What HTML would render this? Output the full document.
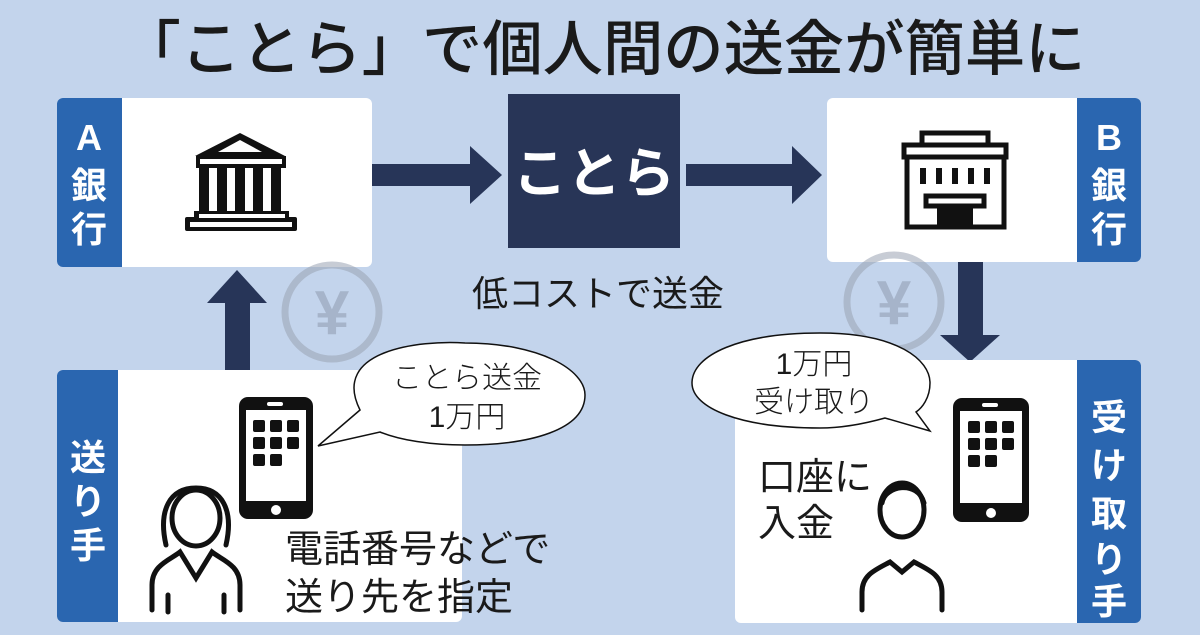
<!DOCTYPE html>
<html><head><meta charset="utf-8"><style>
html,body{margin:0;padding:0;}
body{width:1200px;height:630px;overflow:hidden;background:#c3d4ec;}
svg text{font-family:"Liberation Sans","Noto Sans CJK JP",sans-serif;}
</style></head><body>
<svg width="1200" height="630" viewBox="0 0 1200 630" xmlns="http://www.w3.org/2000/svg">
<rect width="1200" height="630" fill="#c3d4ec"/>
<text x="603" y="70" text-anchor="middle" font-size="60" font-weight="500" fill="#1a1a1a" textLength="965" lengthAdjust="spacingAndGlyphs">「ことら」で個人間の送金が簡単に</text>

<!-- A bank -->
<rect x="57" y="98" width="315" height="169" rx="6" fill="#fff"/>
<path d="M63 98 H122 V267 H63 a6 6 0 0 1 -6 -6 V104 a6 6 0 0 1 6 -6z" fill="#2a66b0"/>
<g font-size="36" font-weight="bold" fill="#fff" text-anchor="middle">
<text x="89" y="150">A</text><text x="89" y="198">銀</text><text x="89" y="242">行</text></g>
<g fill="#111">
<polygon points="240,133 285,156 195,156"/>
<rect x="196" y="156" width="90" height="12"/>
<rect x="199" y="168" width="10" height="45"/><rect x="217" y="168" width="10" height="45"/><rect x="235" y="168" width="10" height="45"/><rect x="253" y="168" width="10" height="45"/><rect x="271" y="168" width="10" height="45"/>
<rect x="194" y="211" width="95" height="11"/>
<rect x="185" y="217" width="112" height="14" rx="2"/>
</g>
<polygon points="240,140 262,152 218,152" fill="#fff"/>
<rect x="200" y="159" width="82" height="5" fill="#fff"/>
<rect x="199" y="214" width="86" height="4" fill="#fff"/>
<rect x="190" y="222" width="102" height="5" fill="#fff"/>

<rect x="372" y="164" width="100" height="22" fill="#273558"/>
<polygon points="470,146 502,175 470,204" fill="#273558"/>
<rect x="686" y="164" width="108" height="22" fill="#273558"/>
<polygon points="792,146 822,175 792,204" fill="#273558"/>

<rect x="508" y="94" width="172" height="154" fill="#283557"/>
<text x="594" y="192" text-anchor="middle" font-size="54" font-weight="bold" fill="#fff">ことら</text>
<text x="598" y="306" text-anchor="middle" font-size="36" fill="#1a1a1a">低コストで送金</text>

<!-- B bank -->
<rect x="827" y="98" width="314" height="164" rx="6" fill="#fff"/>
<path d="M1077 98 H1135 a6 6 0 0 1 6 6 V256 a6 6 0 0 1 -6 6 H1077z" fill="#2a66b0"/>
<g font-size="36" font-weight="bold" fill="#fff" text-anchor="middle">
<text x="1109" y="150">B</text><text x="1109" y="198">銀</text><text x="1109" y="242">行</text></g>
<g fill="none" stroke="#111" stroke-width="5">
<rect x="922" y="133" width="66" height="12"/>
<rect x="904" y="145" width="102" height="12"/>
<path d="M907 157 V227 H1004 V157"/>
<rect x="926" y="196" width="58" height="10"/>
</g>
<g fill="#111">
<rect x="920" y="168" width="6" height="16"/><rect x="936" y="168" width="6" height="16"/><rect x="952" y="168" width="6" height="16"/><rect x="968" y="168" width="6" height="16"/><rect x="984" y="168" width="6" height="16"/>
<rect x="937" y="208" width="36" height="19"/>
</g>

<g opacity="0.55">
<circle cx="332" cy="312" r="47" fill="none" stroke="#9aa3b3" stroke-width="7"/>
<text x="332" y="334" text-anchor="middle" font-size="62" font-weight="bold" fill="#8f9bb0">¥</text>
<circle cx="894" cy="302" r="47" fill="none" stroke="#9aa3b3" stroke-width="7"/>
<text x="894" y="324" text-anchor="middle" font-size="62" font-weight="bold" fill="#8f9bb0">¥</text>
</g>

<rect x="225" y="300" width="25" height="72" fill="#273558"/>
<polygon points="207,303 237,270 267,303" fill="#273558"/>
<rect x="958" y="262" width="25" height="75" fill="#273558"/>
<polygon points="940,335 970,362 1000,335" fill="#273558"/>

<!-- sender -->
<rect x="57" y="370" width="405" height="252" rx="6" fill="#fff"/>
<path d="M63 370 H118 V622 H63 a6 6 0 0 1 -6 -6 V376 a6 6 0 0 1 6 -6z" fill="#2a66b0"/>
<g font-size="36" font-weight="bold" fill="#fff" text-anchor="middle">
<text x="88" y="470">送</text><text x="88" y="514">り</text><text x="88" y="558">手</text></g>
<rect x="239" y="397" width="74" height="122" rx="9" fill="#111"/>
<rect x="246" y="410" width="60" height="91" fill="#fff"/>
<rect x="267" y="402" width="16" height="4" rx="2" fill="#fff"/>
<circle cx="276" cy="510" r="5" fill="#fff"/>
<g fill="#111">
<rect x="253" y="420" width="12" height="12" rx="2"/><rect x="270" y="420" width="12" height="12" rx="2"/><rect x="287" y="420" width="12" height="12" rx="2"/>
<rect x="253" y="437" width="12" height="12" rx="2"/><rect x="270" y="437" width="12" height="12" rx="2"/><rect x="287" y="437" width="12" height="12" rx="2"/>
<rect x="253" y="454" width="12" height="12" rx="2"/><rect x="270" y="454" width="12" height="12" rx="2"/>
</g>
<g fill="none" stroke="#111" stroke-width="5" stroke-linecap="round">
<path d="M166 545 C158 510 170 488 196 488 C222 488 234 510 226 545"/>
<ellipse cx="196" cy="518" rx="24" ry="28"/>
<path d="M152 610 V585 C152 565 170 560 180 552 L196 578 L212 552 C222 560 240 565 240 585 V610"/>
<path d="M168 595 V612 M224 595 V612"/>
</g>
<text x="285" y="562" font-size="38" fill="#1a1a1a">電話番号などで</text>
<text x="285" y="610" font-size="38" fill="#1a1a1a">送り先を指定</text>

<path d="M360 410 C330 350 420 340 465 343 C540 343 585 370 585 395 C585 430 530 445 465 445 C430 445 400 440 380 432 L318 446 Z" fill="#fff" stroke="#111" stroke-width="1.5"/>
<text x="467" y="388" text-anchor="middle" font-size="30" font-weight="300" fill="#1a1a1a">ことら送金</text>
<text x="467" y="427" text-anchor="middle" font-size="30" font-weight="300" fill="#1a1a1a">1万円</text>

<!-- receiver -->
<rect x="735" y="360" width="406" height="263" rx="6" fill="#fff"/>
<path d="M1077 360 H1135 a6 6 0 0 1 6 6 V617 a6 6 0 0 1 -6 6 H1077z" fill="#2a66b0"/>
<g font-size="36" font-weight="bold" fill="#fff" text-anchor="middle">
<text x="1109" y="430">受</text><text x="1109" y="478">け</text><text x="1109" y="526">取</text><text x="1109" y="572">り</text><text x="1109" y="614">手</text></g>
<rect x="953" y="398" width="76" height="124" rx="9" fill="#111"/>
<rect x="960" y="411" width="62" height="92" fill="#fff"/>
<rect x="982" y="403" width="16" height="4" rx="2" fill="#fff"/>
<circle cx="991" cy="513" r="5" fill="#fff"/>
<g fill="#111">
<rect x="968" y="421" width="12" height="12" rx="2"/><rect x="985" y="421" width="12" height="12" rx="2"/><rect x="1002" y="421" width="12" height="12" rx="2"/>
<rect x="968" y="438" width="12" height="12" rx="2"/><rect x="985" y="438" width="12" height="12" rx="2"/><rect x="1002" y="438" width="12" height="12" rx="2"/>
<rect x="968" y="455" width="12" height="12" rx="2"/><rect x="985" y="455" width="12" height="12" rx="2"/>
</g>
<g fill="none" stroke="#111" stroke-width="5" stroke-linecap="round">
<ellipse cx="902" cy="510" rx="22" ry="27"/>
<path d="M882 503 C885 485 918 480 924 503"/>
<path d="M862 610 V592 C862 575 875 570 890 562 L902 572 L914 562 C929 570 942 575 942 592 V610"/>
</g>
<text x="758" y="490" font-size="38" fill="#1a1a1a">口座に</text>
<text x="758" y="536" font-size="38" fill="#1a1a1a">入金</text>

<path d="M930 431 L885 418 C860 425 840 428 820 428 C740 428 692 408 692 383 C692 355 740 333 820 333 C898 333 930 360 930 383 C930 398 922 408 916 412 Z" fill="#fff" stroke="#111" stroke-width="1.5"/>
<text x="814" y="374" text-anchor="middle" font-size="30" font-weight="300" fill="#1a1a1a">1万円</text>
<text x="814" y="412" text-anchor="middle" font-size="30" font-weight="300" fill="#1a1a1a">受け取り</text>
</svg>
</body></html>
